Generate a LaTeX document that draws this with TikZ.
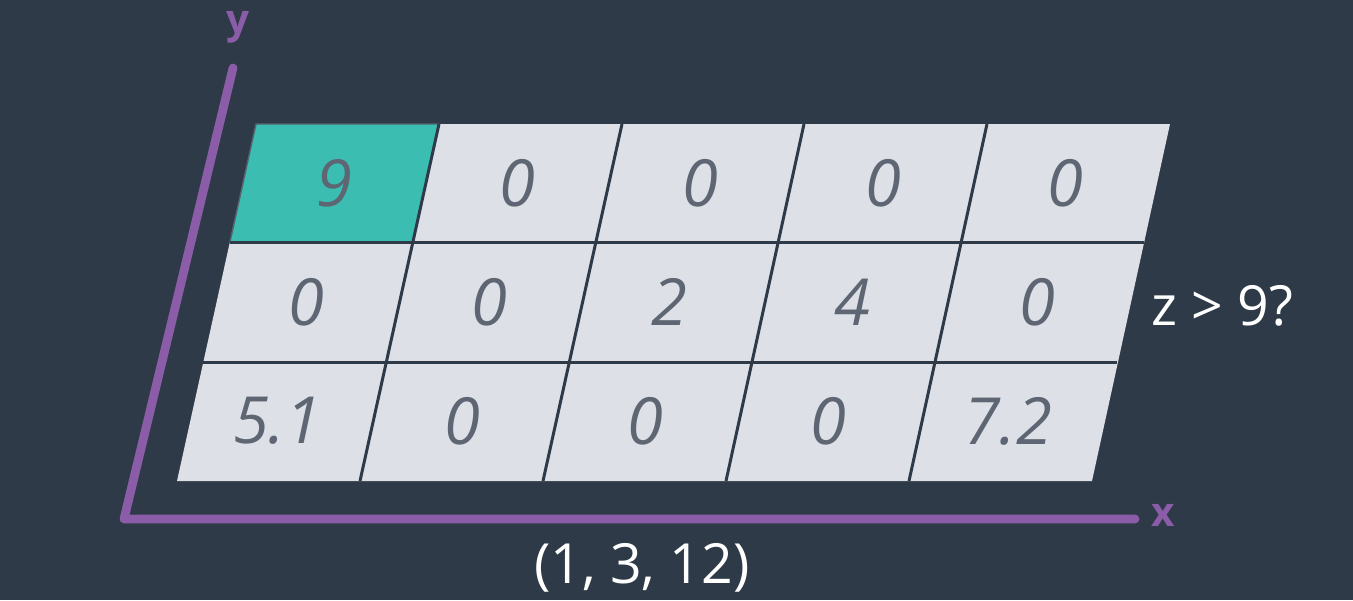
\documentclass[tikz,border=0pt]{standalone}
\usepackage{fontspec}
\setmainfont{Open Sans}

\definecolor{bgdark}{HTML}{2E3A48}
\definecolor{cellgray}{HTML}{DDE0E6}
\definecolor{cellteal}{HTML}{3CBDB2}
\definecolor{axispurple}{HTML}{8B5CA8}
\definecolor{numgray}{HTML}{5E6673}
\definecolor{edgegray}{HTML}{56626C}

\tikzset{
  cellnum/.style={font=\fontsize{37}{42}\selectfont\itshape, text=numgray},
  gridline/.style={draw=bgdark, line width=1.7pt},
  axisline/.style={draw=axispurple, line width=5pt, line cap=round, line join=round},
  axislabel/.style={font=\fontsize{23}{28}\selectfont\bfseries, text=axispurple},
  note/.style={font=\fontsize{31.5}{36}\selectfont, text=white},
}

\begin{document}
\begin{tikzpicture}[x=0.02cm, y=-0.02cm]
    \fill[bgdark] (0,0) rectangle (1353,600);
    \useasboundingbox (0,0) rectangle (1353,600);

    % the slanted grid
    \coordinate (tl) at (256,124);
    \coordinate (tr) at (1170,124);
    \coordinate (br) at (1092,481);
    \coordinate (bl) at (177,481);
    \fill[cellgray] (tl) -- (tr) -- (br) -- (bl) -- cycle;
    \fill[cellteal] (256,124) -- (439,124) -- (413,242) -- (230,242) -- cycle;  % hit cell
    \draw[edgegray, line width=0.8pt] (230,242) -- (256,124) -- (439,124);

    \draw[gridline] (230,242) -- (1144,242);  % row 1 -- row 2
    \draw[gridline] (203,362) -- (1117,362);  % row 2 -- row 3
    \draw[gridline] (439,124) -- (360,481);   % col 1 -- col 2
    \draw[gridline] (622,124) -- (543,481);   % col 2 -- col 3
    \draw[gridline] (804,124) -- (726,481);   % col 3 -- col 4
    \draw[gridline] (987,124) -- (909,481);   % col 4 -- col 5

    % row 1
    \node[cellnum] (c11) at (334,183) {9};
    \node[cellnum] (c12) at (517,183) {0};
    \node[cellnum] (c13) at (700,183) {0};
    \node[cellnum] (c14) at (883,183) {0};
    \node[cellnum] (c15) at (1065,183) {0};
    % row 2
    \node[cellnum] (c21) at (306,302) {0};
    \node[cellnum] (c22) at (489,302) {0};
    \node[cellnum] (c23) at (669,302) {2};
    \node[cellnum] (c24) at (852,302) {4};
    \node[cellnum] (c25) at (1037,302) {0};
    % row 3
    \node[cellnum] (c31) at (277,421) {5.1};
    \node[cellnum] (c32) at (462,421) {0};
    \node[cellnum] (c33) at (645,421) {0};
    \node[cellnum] (c34) at (828,421) {0};
    \node[cellnum] (c35) at (1008,421) {7.2};

    % axes
    \coordinate (orig) at (124,519);
    \coordinate (ytip) at (233,68);
    \coordinate (xtip) at (1135,519);
    \draw[axisline] (ytip) -- (orig) -- (xtip);
    \node[axislabel] (ylab) at (238,27) {y};
    \node[axislabel] (xlab) at (1163,515) {x};

    \node[note, anchor=west] (cond) at (1145,306) {z > 9?};
    \node[note] (point) at (642,568) {(1, 3, 12)};
  \end{tikzpicture}
\end{document}
